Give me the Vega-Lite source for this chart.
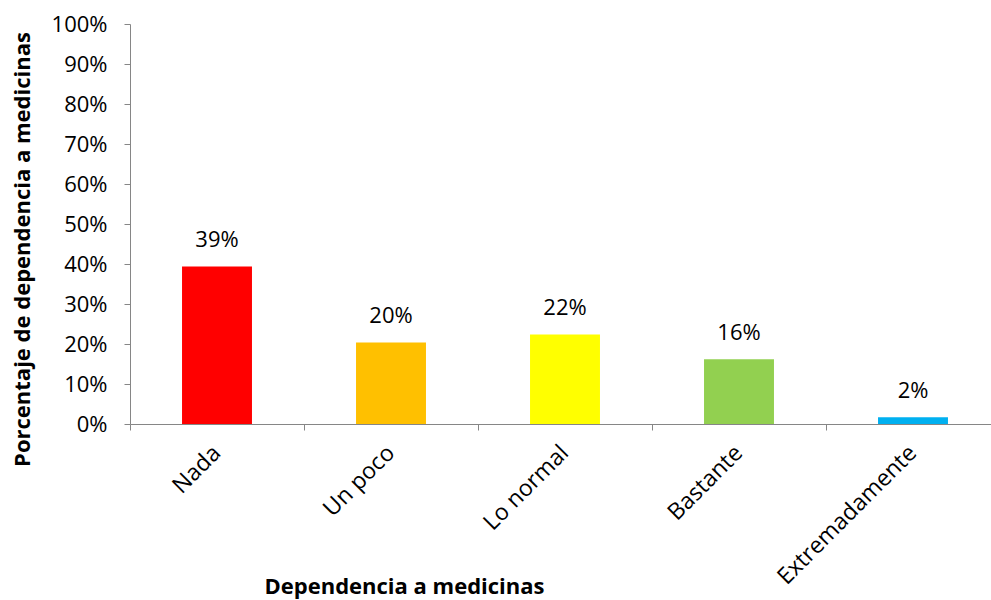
{
  "$schema": "https://vega.github.io/schema/vega-lite/v6.json",
  "autosize": {"type": "none"},
  "width": 860,
  "height": 400,
  "padding": {"left": 130, "top": 24, "right": 1, "bottom": 176},
  "background": "white",
  "config": {
    "view": {"stroke": null},
    "font": "Open Sans",
    "axis": {"domainColor": "#868686", "tickColor": "#868686", "grid": false, "labelColor": "black", "titleColor": "black", "labelFont": "Open Sans", "titleFont": "Open Sans", "labelOverlap": false, "labelLimit": 0}
  },
  "data": {
    "values": [
      {"cat": "Nada", "pct": 0.394, "label": "39%", "color": "#FF0000"},
      {"cat": "Un poco", "pct": 0.204, "label": "20%", "color": "#FFC000"},
      {"cat": "Lo normal", "pct": 0.224, "label": "22%", "color": "#FFFF00"},
      {"cat": "Bastante", "pct": 0.162, "label": "16%", "color": "#92D050"},
      {"cat": "Extremadamente", "pct": 0.017, "label": "2%", "color": "#00B0F0"}
    ]
  },
  "layer": [
    {
      "mark": {"type": "bar", "width": {"band": 0.402}},
      "encoding": {
        "x": {
          "field": "cat", "type": "nominal", "sort": null,
          "scale": {"paddingInner": 0, "paddingOuter": 0, "range": [0, 870]},
          "axis": {
            "orient": "bottom", "title": "Dependencia a medicinas",
            "ticks": false, "domain": true, "labelAngle": -45, "labelAlign": "right", "labelBaseline": "middle",
            "labelFontSize": 23, "labelPadding": 25, "labelOverlap": false, "labelLimit": 0,
            "titleFontSize": 22, "titleFontWeight": "bold",
            "titleX": 274, "titleY": 169, "titleBaseline": "alphabetic", "titleAnchor": "middle", "titleAlign": "center"
          }
        },
        "y": {
          "field": "pct", "type": "quantitative",
          "scale": {"domain": [0, 1]},
          "axis": {
            "title": "Porcentaje de dependencia a medicinas", "format": ".0%", "values": [0,0.1,0.2,0.3,0.4,0.5,0.6,0.7,0.8,0.9,1],
            "labelFontSize": 22, "tickSize": 6, "labelPadding": 17, "labelOverlap": false,
            "titleFontSize": 22, "titleFontWeight": "bold",
            "titleX": -108, "titleY": 225, "titleAngle": -90, "titleBaseline": "middle", "titleAlign": "center"
          }
        },
        "color": {"field": "color", "type": "nominal", "scale": null, "legend": null}
      }
    },
    {
      "mark": {"type": "text", "baseline": "alphabetic", "dy": -19, "fontSize": 22, "font": "Open Sans", "color": "black"},
      "encoding": {
        "x": {
          "field": "cat", "type": "nominal", "sort": null,
          "axis": {"orient": "bottom", "title": null, "labels": false, "domain": false, "ticks": true, "tickSize": 6, "bandPosition": 0}
        },
        "y": {
          "field": "pct", "type": "quantitative",
          "axis": {
            "title": "Porcentaje de dependencia a medicinas", "format": ".0%", "values": [0,0.1,0.2,0.3,0.4,0.5,0.6,0.7,0.8,0.9,1],
            "labelFontSize": 22, "tickSize": 6, "labelPadding": 17, "labelOverlap": false,
            "titleFontSize": 22, "titleFontWeight": "bold",
            "titleX": -108, "titleY": 225, "titleAngle": -90, "titleBaseline": "middle", "titleAlign": "center"
          }
        },
        "text": {"field": "label"}
      }
    }
  ],
  "resolve": {"axis": {"x": "independent"}}
}
